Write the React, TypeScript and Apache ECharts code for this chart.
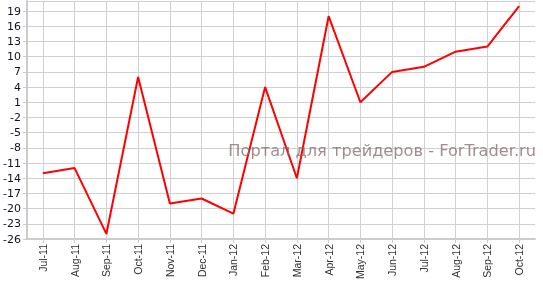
import React, { useEffect, useRef } from "react";
import * as echarts from "echarts";

const categories = [
  "Jul-11", "Aug-11", "Sep-11", "Oct-11", "Nov-11", "Dec-11", "Jan-12", "Feb-12",
  "Mar-12", "Apr-12", "May-12", "Jun-12", "Jul-12", "Aug-12", "Sep-12", "Oct-12",
];
const values = [-13, -12, -25, 6, -19, -18, -21, 4, -14, 18, 1, 7, 8, 11, 12, 20];
const yMin = -26;
const yMax = 21;
const yInterval = 3;
const watermark = "Портал для трейдеров - ForTrader.ru";

export default function App() {
  const ref = useRef<HTMLDivElement>(null);
  useEffect(() => {
    if (!ref.current) return;
    const chart = echarts.init(ref.current, undefined, { renderer: "svg" });
    chart.setOption({
      animation: false,
      grid: { left: 27, right: 8, top: 1, bottom: 42, containLabel: false, outerBoundsMode: "none" },
      xAxis: {
        type: "category",
        data: categories,
        boundaryGap: true,
        axisLine: { show: true, onZero: false, lineStyle: { color: "#cccccc", width: 2 } },
        axisTick: { show: true, alignWithLabel: true, length: 4, lineStyle: { color: "#cccccc" } },
        axisLabel: {
          rotate: 90,
          interval: 0,
          margin: 5,
          fontFamily: "Liberation Sans, Arial, sans-serif",
          fontSize: 10.5,
          color: "#333333",
        },
        splitLine: { show: false },
      },
      yAxis: {
        type: "value",
        min: yMin,
        max: yMax,
        interval: yInterval,
        axisLine: { show: true, lineStyle: { color: "#cccccc", width: 2 } },
        axisTick: { show: true, length: 4, lineStyle: { color: "#cccccc" } },
        axisLabel: {
          showMaxLabel: false,
          margin: 6,
          fontFamily: "DejaVu Sans, Verdana, sans-serif",
          fontSize: 11,
          color: "#111122",
        },
        splitLine: { show: true, lineStyle: { color: "#d0d0d0", width: 1 } },
      },
      series: [
        {
          type: "line",
          data: values,
          showSymbol: false,
          symbol: "none",
          lineStyle: { color: "#ff0000", width: 2 },
          z: 3,
          markLine: {
            silent: true,
            symbol: ["none", "none"],
            label: { show: false },
            lineStyle: { color: "#d0d0d0", width: 1, type: "solid" },
            z: 1,
            data: categories.map((c) => ({ xAxis: c })),
          },
        },
      ],
      graphic: [
        {
          type: "text",
          right: 7,
          top: 142,
          z: 10,
          style: {
            text: watermark,
            fontFamily: "DejaVu Sans, Verdana, sans-serif",
            fontSize: 16.2,
            fill: "rgba(130, 105, 105, 0.75)",
          },
        },
      ],
    });
    return () => chart.dispose();
  }, []);
  return <div ref={ref} style={{ width: 543, height: 281, position: "fixed", left: 0, top: 0 }} />;
}
